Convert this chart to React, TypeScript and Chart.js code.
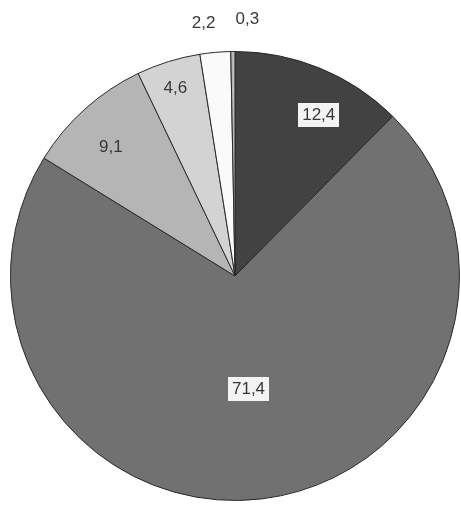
import React, { useEffect, useRef } from "react";
import { Chart, registerables } from "chart.js";

Chart.register(...registerables);

const categories = ["A", "B", "C", "D", "E", "F"];
const values = [12.4, 71.4, 9.1, 4.6, 2.2, 0.3];
const valueLabels = ["12,4", "71,4", "9,1", "4,6", "2,2", "0,3"];
const sliceColors = ["#424242", "#717171", "#b5b5b5", "#d3d3d3", "#fafafa", "#b8b8b8"];

// label placement: radial fraction, angular shift (deg), boxed
const labelPlacement = [
  { r: 0.81, da: 5.1, box: true },
  { r: 0.506, da: 0, box: true },
  { r: 0.8, da: -1.8, box: false },
  { r: 0.88, da: -0.3, box: false },
  { r: 1.14, da: -2, box: false },
  { r: 1.147, da: 3.3, box: false },
];

const labelPlugin = {
  id: "sliceLabels",
  afterDatasetsDraw(chart: any) {
    const ctx = chart.ctx;
    const meta = chart.getDatasetMeta(0);
    ctx.save();
    ctx.font = '17px "Liberation Sans", Arial, sans-serif';
    ctx.textAlign = "center";
    ctx.textBaseline = "middle";
    meta.data.forEach((arc: any, i: number) => {
      const p = labelPlacement[i];
      const mid = (arc.startAngle + arc.endAngle) / 2 + (p.da * Math.PI) / 180;
      const rr = arc.outerRadius * p.r;
      const x = arc.x + Math.cos(mid) * rr;
      const y = arc.y + Math.sin(mid) * rr;
      const text = valueLabels[i];
      if (p.box) {
        const w = ctx.measureText(text).width + 8;
        const h = 24;
        ctx.fillStyle = "#f3f3f3";
        ctx.fillRect(Math.round(x - w / 2), Math.round(y - h / 2), Math.round(w), h);
      }
      ctx.fillStyle = "#383838";
      ctx.fillText(text, x, y + 1);
    });
    ctx.restore();
  },
};

export default function App() {
  const ref = useRef<HTMLCanvasElement | null>(null);
  useEffect(() => {
    document.body.style.margin = "0";
    const chart = new Chart(ref.current as HTMLCanvasElement, {
      type: "pie",
      data: {
        labels: categories,
        datasets: [
          {
            data: values,
            backgroundColor: sliceColors,
            borderColor: "#2a2a2a",
            borderWidth: 1,
          },
        ],
      },
      options: {
        responsive: false,
        animation: false,
        layout: { padding: { left: 10, right: 1, top: 51, bottom: 6 } },
        plugins: {
          legend: { display: false },
          tooltip: { enabled: false },
        },
      },
      plugins: [labelPlugin],
    });
    return () => chart.destroy();
  }, []);
  return (
    <div style={{ width: 461, height: 507, background: "#ffffff" }}>
      <canvas ref={ref} width={461} height={507} style={{ display: "block" }} />
    </div>
  );
}
